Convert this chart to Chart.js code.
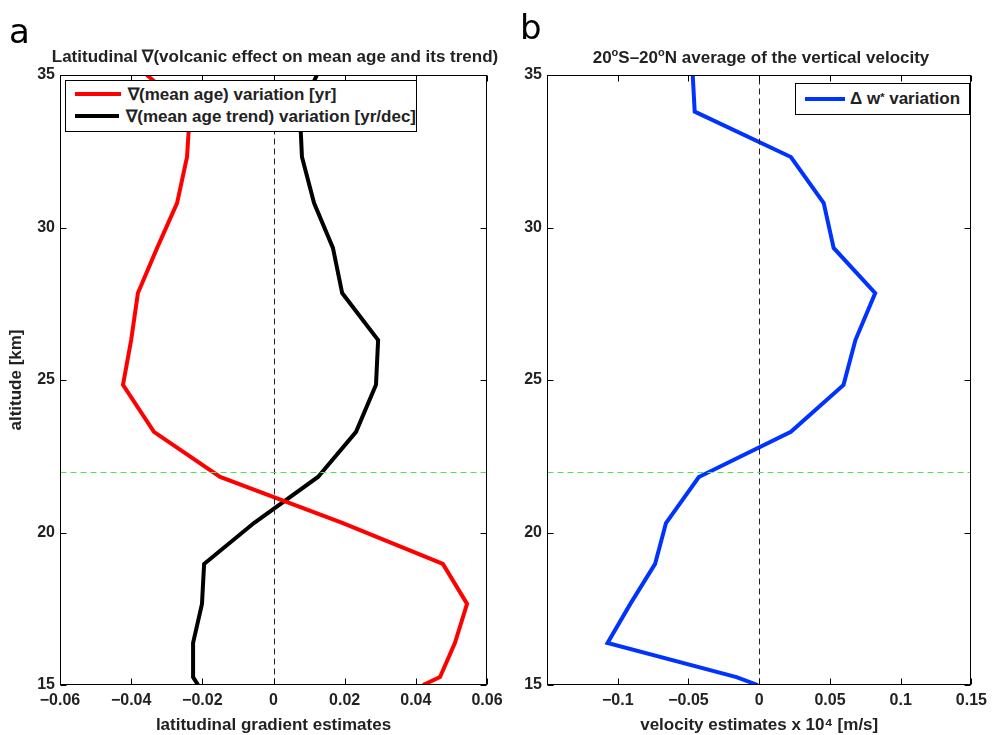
<!DOCTYPE html>
<html>
<head>
<meta charset="utf-8">
<script src="https://cdn.jsdelivr.net/npm/chart.js@4.4.1/dist/chart.umd.min.js"></script>
<style>
  body { margin: 0; background: #fff; width: 993px; height: 735px; overflow: hidden; position: relative;
         font-family: "Liberation Sans", Arial, sans-serif; color: #222; }
  canvas { position: absolute; top: 0; }
  #chartA { left: 0; }
  #chartB { left: 480px; }
  .panel { position: absolute; font-family: "DejaVu Sans", sans-serif; font-size: 34px; color: #000; line-height: 1; }
  .title { position: absolute; font-weight: bold; font-size: 17px; white-space: nowrap; transform: translateX(-50%); }
  .title sup { font-size: 11px; }
  .legend { position: absolute; border: 1px solid #000; background: #fff; font-weight: bold; font-size: 17px; }
  .legend .row { display: flex; align-items: center; height: 22px; white-space: nowrap; }
  .legend .swatch { width: 46px; height: 4px; margin: 0 7px 0 9px; }
  .legend sup { font-size: 11px; position: relative; top: -2px; }
</style>
</head>
<body>
<canvas id="chartA" width="520" height="735"></canvas>
<canvas id="chartB" width="513" height="735"></canvas>

<div class="panel" style="left:9px; top:14px;">a</div>
<div class="panel" style="left:520px; top:10px;">b</div>
<div class="title" style="left:275px; top:46px;">Latitudinal ∇(volcanic effect on mean age and its trend)</div>
<div class="title" style="left:761px; top:46px;">20<sup>o</sup>S–20<sup>o</sup>N average of the vertical velocity</div>

<div class="legend" style="left:65px; top:80px; width:350px; height:48px; padding-top:2px;">
  <div class="row"><div class="swatch" style="background:#ff0000"></div>∇(mean age) variation [yr]</div>
  <div class="row"><div class="swatch" style="background:#000"></div>∇(mean age trend) variation [yr/dec]</div>
</div>
<div class="legend" style="left:795px; top:83px; width:173px; height:30px;">
  <div class="row" style="height:30px"><div class="swatch" style="background:#0033ff; width:40px; margin-left:9px; margin-right:5px"></div>Δ w<sup>*</sup>&nbsp;variation</div>
</div>

<script>
// altitude levels [km] shared by all profiles
const altitudes = [35, 33.8, 32.31, 30.8, 29.33, 27.85, 26.31, 24.84, 23.3, 21.82, 20.31, 18.97, 17.66, 16.38, 15.26, 15];

// panel a: latitudinal gradients
const meanAgeGrad = [-0.0356, -0.0235, -0.0243, -0.0271, -0.0327, -0.0381, -0.0400, -0.0423, -0.0336, -0.0150, 0.0195, 0.0476, 0.0544, 0.0510, 0.0468, 0.0420];
const meanAgeTrendGrad = [0.0122, 0.0074, 0.0080, 0.0114, 0.0167, 0.0193, 0.0294, 0.0288, 0.0232, 0.0125, -0.0055, -0.0195, -0.0201, -0.0226, -0.0226, -0.0212];

// panel b: w* variation (x 10^4 m/s)
const wStarVar = [-0.0470, -0.0456, 0.0224, 0.0456, 0.0526, 0.0820, 0.0680, 0.0596, 0.0224, -0.0427, -0.0659, -0.0736, -0.0911, -0.1072, -0.0161, -0.0010];

const refAltitude = 22;   // green dashed line
const altTicks = [15, 20, 25, 30, 35];

const FONT = '"Liberation Sans", Arial, sans-serif';
const INK = '#222';

function toPoints(vals) {
  return vals.map((v, i) => ({ x: v, y: altitudes[i] }));
}

function fmt(v) {
  const r = parseFloat(v.toFixed(2));
  if (r === 0) return '0';
  return (r < 0 ? '\u2212' : '') + String(Math.abs(r));
}

// box, inward ticks and the two reference lines (matlab style)
const framePlugin = {
  id: 'frame',
  afterDatasetsDraw(chart) {
    const { ctx, chartArea: a, scales: { x, y } } = chart;
    const L = Math.round(a.left) + 0.5, R = Math.round(a.right) - 0.5;
    const T = Math.round(a.top) + 0.5, B = Math.round(a.bottom) - 0.5;
    ctx.save();
    ctx.lineWidth = 1;

    ctx.setLineDash([6, 4]);
    ctx.strokeStyle = '#222';
    const x0 = Math.round(x.getPixelForValue(0)) + 0.5;
    ctx.beginPath(); ctx.moveTo(x0, B); ctx.lineTo(x0, T); ctx.stroke();

    ctx.strokeStyle = '#55e055';
    const yr = Math.round(y.getPixelForValue(refAltitude)) + 0.5;
    ctx.beginPath(); ctx.moveTo(L, yr); ctx.lineTo(R, yr); ctx.stroke();
    ctx.setLineDash([]);

    ctx.strokeStyle = '#000';
    ctx.strokeRect(L, T, R - L, B - T);

    const len = 6;
    ctx.beginPath();
    x.ticks.forEach(t => {
      const px = Math.round(x.getPixelForValue(t.value)) + 0.5;
      ctx.moveTo(px, B); ctx.lineTo(px, B - len);
      ctx.moveTo(px, T); ctx.lineTo(px, T + len);
    });
    y.ticks.forEach(t => {
      const py = Math.round(y.getPixelForValue(t.value)) + 0.5;
      ctx.moveTo(L, py); ctx.lineTo(L + len, py);
      ctx.moveTo(R, py); ctx.lineTo(R - len, py);
    });
    ctx.stroke();
    ctx.restore();
  }
};

function lineSet(vals, color) {
  return {
    data: toPoints(vals),
    showLine: true,
    borderColor: color,
    backgroundColor: color,
    borderWidth: 4,
    pointRadius: 0,
    tension: 0
  };
}

function makeChart(id, datasets, xMin, xMax, xStep, xTitle, yTitle, yWidth, padRight, hideLabel) {
  return new Chart(document.getElementById(id), {
    type: 'scatter',
    data: { datasets: datasets },
    options: {
      responsive: false,
      animation: false,
      layout: { padding: { top: 75, right: padRight, left: 0, bottom: 0 } },
      plugins: { legend: { display: false }, tooltip: { enabled: false } },
      scales: {
        x: {
          type: 'linear', min: xMin, max: xMax,
          grid: { display: false, drawTicks: false },
          border: { display: false },
          afterFit: s => { s.height = 50; },
          ticks: {
            stepSize: xStep, padding: 6, color: INK,
            font: { family: FONT, size: 16, weight: 'bold' },
            maxRotation: 0,
            callback: v => (hideLabel !== undefined && Math.abs(v - hideLabel) < 1e-9) ? '' : fmt(v)
          },
          title: {
            display: true, text: xTitle, color: INK,
            font: { family: FONT, size: 17, weight: 'bold' },
            padding: { top: 0, bottom: -1 }
          }
        },
        y: {
          type: 'linear', min: 15, max: 35,
          grid: { display: false, drawTicks: false },
          border: { display: false },
          afterFit: s => { s.width = yWidth; },
          afterBuildTicks: s => { s.ticks = altTicks.map(v => ({ value: v })); },
          ticks: {
            padding: 5, color: INK,
            font: { family: FONT, size: 16, weight: 'bold' }
          },
          title: {
            display: !!yTitle, text: yTitle, color: INK,
            font: { family: FONT, size: 17, weight: 'bold' },
            padding: { top: 6, bottom: 0 }
          }
        }
      }
    },
    plugins: [framePlugin]
  });
}

makeChart('chartA',
  [lineSet(meanAgeGrad, '#ff0000'), lineSet(meanAgeTrendGrad, '#000000')],
  -0.06, 0.06, 0.02, 'latitudinal gradient estimates', 'altitude [km]', 60, 33);

makeChart('chartB',
  [lineSet(wStarVar, '#0033ff')],
  -0.15, 0.15, 0.05, 'velocity estimates x 10\u2074 [m/s]', '', 67, 18, -0.15);
</script>
</body>
</html>
